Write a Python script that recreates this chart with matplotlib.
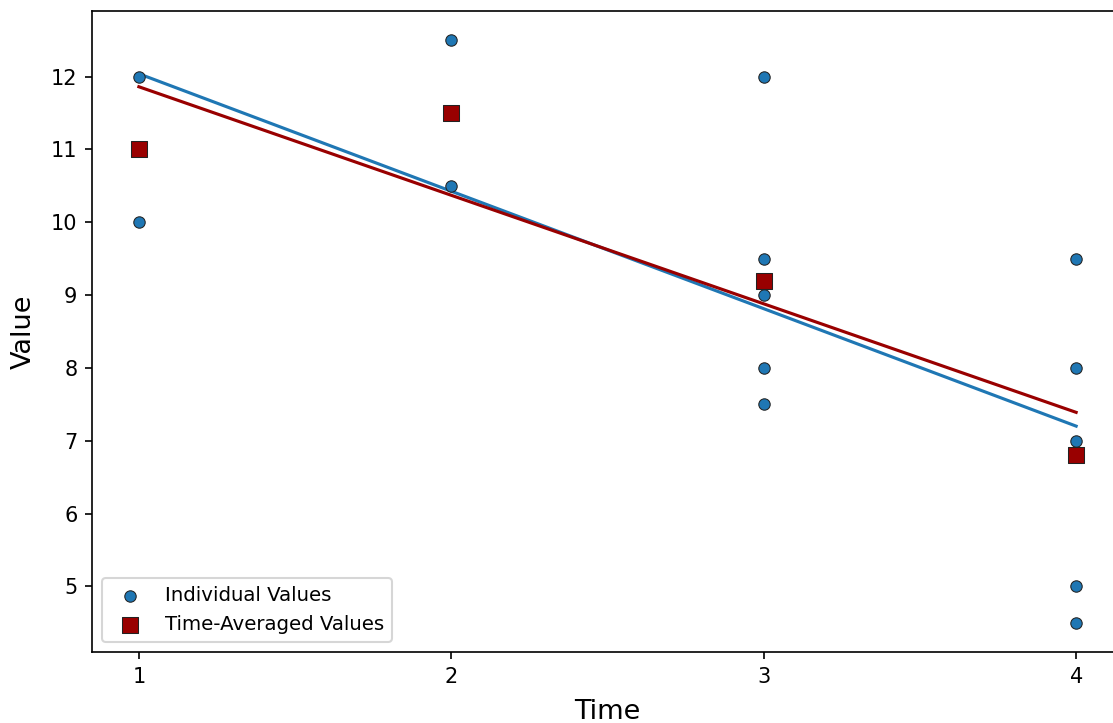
import numpy as np
import matplotlib
matplotlib.use('Agg')
import matplotlib.pyplot as plt

# individual observations per time point
times = [1, 1, 2, 2, 3, 3, 3, 3, 3, 4, 4, 4, 4, 4]
values = [12, 10, 12.5, 10.5, 12, 9.5, 9, 8, 7.5, 9.5, 8, 7, 5, 4.5]

# averages per time point
avg_times = [1, 2, 3, 4]
avg_values = [11, 11.5, 9.2, 6.8]

blue = '#1f77b4'
red = '#990000'

fig = plt.figure(figsize=(1113 / 150, 723 / 150), dpi=150)
ax = fig.add_axes([92 / 1113, 71 / 723, 1031 / 1113, 641 / 723])

# fitted lines
x = np.array(times, dtype=float)
k1, b1 = np.polyfit(x, values, 1)
xs = np.array([min(times), max(times)], dtype=float)
ax.plot(xs, k1 * xs + b1, color=blue, linewidth=1.5)

k2, b2 = np.polyfit(avg_times, avg_values, 1)
ax.plot(xs, k2 * xs + b2, color=red, linewidth=1.5)

ax.scatter(times, values, s=30, color=blue, edgecolors='#222222',
           linewidths=0.5, label='Individual Values', zorder=3)
ax.scatter(avg_times, avg_values, s=60, marker='s', color=red,
           edgecolors='#222222', linewidths=0.5,
           label='Time-Averaged Values', zorder=3)

ax.set_xticks(avg_times)
ax.set_xlabel('Time', fontsize=13, labelpad=6)
ax.set_ylabel('Value', fontsize=13, labelpad=7)
ax.legend(loc='lower left', fontsize=9.5)

fig.savefig('out.png', dpi=150)
